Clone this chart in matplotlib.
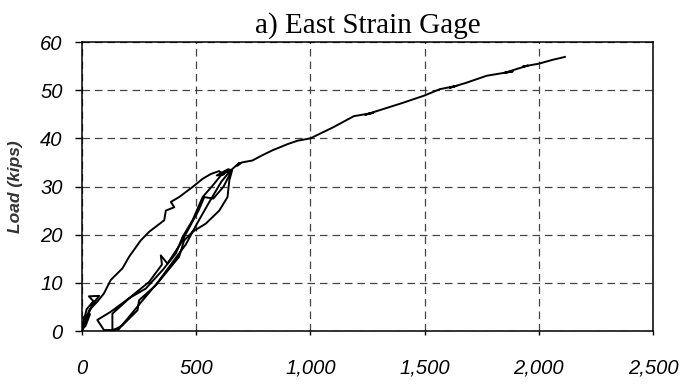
import matplotlib.pyplot as plt

# strain (microstrain) vs load (kips)
# small cycles near the origin
strain_start = [0, 10, 35, 15, 0, 20, 50, 30, 75, 45, 20, 5, 0]
load_start = [0, 3, 3.5, 1, 0.5, 4.5, 6.2, 7.2, 7.3, 5.5, 2.5, 0.5, 0]

# first loading up to ~33 kips
strain_env = [31, 67, 96, 126, 177, 206, 257, 294, 360, 367, 404, 389, 425, 484, 528, 564,
              600, 620, 590, 640, 657]
load_env = [4.3, 6.1, 7.8, 10.6, 13.0, 15.4, 18.8, 20.6, 23.0, 25.0, 25.7, 26.8, 27.8, 29.9, 31.6, 32.6,
            33.2, 32.5, 32.3, 33.6, 33.3]

# unload / reload cycle 1
strain_c1 = [645, 637, 601, 542, 484, 447, 425, 323, 250, 243, 177, 140, 96, 67,
             126, 206, 279, 352, 411, 440, 484, 528, 572, 608, 640]
load_c1 = [31.3, 27.8, 25.0, 22.3, 20.6, 18.8, 15.4, 9.5, 6.4, 4.3, 1.2, 0.2, 0.2, 2.3,
           4.0, 6.8, 8.8, 12.6, 16.1, 19.5, 23.0, 27.8, 30.2, 32.3, 33.2]

# unload / reload cycle 2
strain_c2 = [650, 620, 575, 535, 528, 510, 470, 430, 374, 345, 350, 294, 221, 133, 133,
             160, 250, 330, 400, 455, 500, 560, 610, 650]
load_c2 = [32.8, 30.0, 27.5, 27.8, 27.0, 25.0, 21.5, 18.0, 14.0, 15.7, 13.8, 10.2, 7.4, 3.6, 0.3,
           0.3, 5.5, 10.0, 14.5, 18.0, 22.0, 27.0, 31.0, 33.3]

# final loading to failure
strain_end = [667, 689, 680, 700, 746, 790, 833, 864, 900, 943, 1000, 1100, 1190, 1275, 1240, 1300,
              1400, 1500, 1566, 1640, 1610, 1680, 1772, 1785, 1886, 1850, 1917, 1952, 1930,
              2000, 2060, 2114]
load_end = [34.0, 34.9, 34.3, 35.0, 35.4, 36.5, 37.5, 38.1, 38.8, 39.5, 40.0, 42.3, 44.6, 45.3, 44.9, 45.8,
            47.3, 48.9, 50.2, 50.9, 50.5, 51.5, 53.0, 53.1, 53.9, 53.6, 54.6, 55.1, 54.9,
            55.5, 56.3, 56.9]

strain = strain_start + strain_env + strain_c1 + strain_c2 + strain_end
load = load_start + load_env + load_c1 + load_c2 + load_end

x_ticks = [0, 500, 1000, 1500, 2000, 2500]
x_tick_labels = ["0", "500", "1,000", "1,500", "2,000", "2,500"]
y_ticks = [0, 10, 20, 30, 40, 50, 60]

fig = plt.figure(figsize=(6.84, 3.84), dpi=100)
ax = fig.add_axes([0.1199, 0.138, 0.8348, 0.7526])

ax.plot(strain, load, color="black", lw=1.4)

ax.set_xlim(0, 2500)
ax.set_ylim(0, 60)
ax.set_xticks(x_ticks)
ax.set_xticklabels(x_tick_labels)
ax.set_yticks(y_ticks)

tick_font = dict(family="Liberation Sans", style="italic", size=14.5)
for lab in ax.get_xticklabels() + ax.get_yticklabels():
    lab.set_fontproperties(tick_font)
ax.tick_params(axis="x", direction="out", length=3, width=1, pad=17)
ax.tick_params(axis="y", direction="out", length=5, width=1, pad=9)

ax.grid(True, color="#444444", linestyle=(0, (6, 4)), linewidth=0.9)
for sp in ax.spines.values():
    sp.set_color("black")
    sp.set_linewidth(1.1)

ax.set_title("a) East Strain Gage", family="Liberation Serif", size=21, pad=7)
ax.set_ylabel("Load (kips)", family="Liberation Sans", style="italic",
              weight="bold", size=12.5, color="#333333")
ax.yaxis.set_label_coords(-0.103, 0.5)

fig.savefig("out.png", dpi=100)
